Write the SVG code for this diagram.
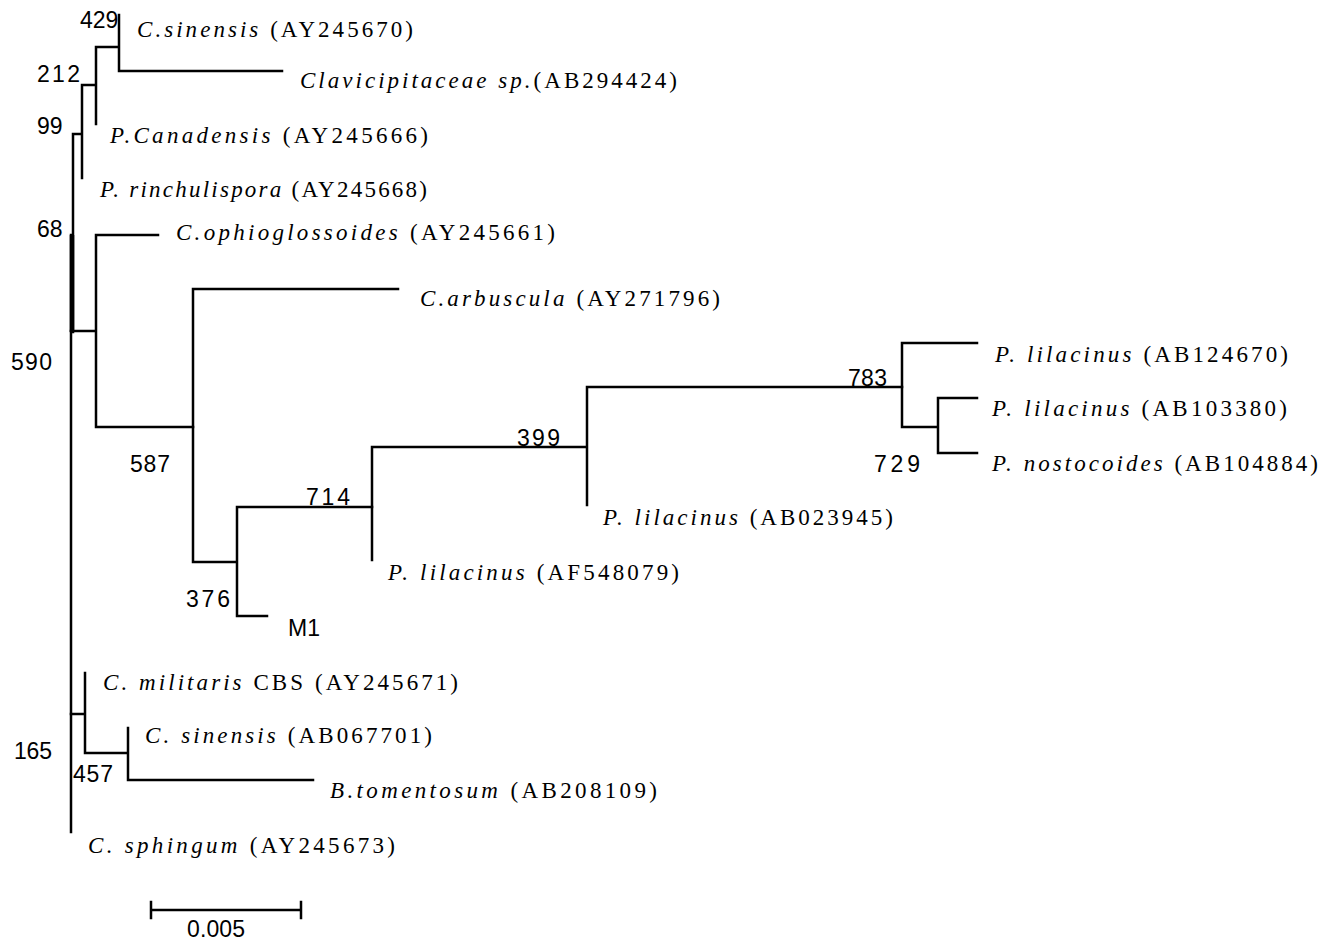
<svg xmlns="http://www.w3.org/2000/svg" width="1327" height="940" viewBox="0 0 1327 940">
<style>
.br{fill:none;stroke:#000;stroke-width:2.5;stroke-linecap:square}
.lab{font-family:"Liberation Serif","Times New Roman",serif;font-size:23px;fill:#000}
.i{font-style:italic}
.num{font-family:"Liberation Sans",Arial,sans-serif;font-size:23px;fill:#000}
</style>
<rect width="1327" height="940" fill="#fff"/>
<g id="connectors">
<path class="br" d="M119,15 V71 M119,71 H282 M96,47 H119 M96,47 V124 M82,85 H96 M82,85 V178 M73,134 H82 M73,134 V332"/>
<path class="br" d="M71,235 V832"/>
<path d="M72,235 V332" stroke="#000" stroke-width="4.5" fill="none"/>
<path class="br" d="M71,331 H96 M96,235 V427 M96,235 H158 M96,427 H193"/>
<path class="br" d="M193,289 V562 M193,289 H398 M193,562 H237 M237,507 V616 M237,616 H267 M237,507 H372"/>
<path class="br" d="M372,447 V560 M372,447 H587 M587,387 V505 M587,387 H902"/>
<path class="br" d="M902,343 V427 M902,343 H977 M902,427 H938 M938,398 V453 M938,398 H977 M938,453 H977"/>
<path class="br" d="M71,714 H85 M85,673 V753 M85,753 H128 M128,728 V780 M128,780 H313"/>
</g>
<g id="scale">
<path class="br" d="M151,910 H301 M151,902 V918 M301,902 V918"/>
<text class="num" x="187" y="937" font-size="20" textLength="58">0.005</text>
</g>
<g id="leaf-csinensis1"><text class="lab" x="137" y="37" textLength="276"><tspan class="i">C.sinensis</tspan> (AY245670)</text></g>
<g id="leaf-clavicipitaceae"><text class="lab" x="300" y="88" textLength="377"><tspan class="i">Clavicipitaceae sp.</tspan>(AB294424)</text></g>
<g id="leaf-pcanadensis"><text class="lab" x="110" y="143" textLength="318"><tspan class="i">P.Canadensis</tspan> (AY245666)</text></g>
<g id="leaf-princhulispora"><text class="lab" x="100" y="197" textLength="327"><tspan class="i">P. rinchulispora</tspan> (AY245668)</text></g>
<g id="leaf-cophioglossoides"><text class="lab" x="176" y="240" textLength="379"><tspan class="i">C.ophioglossoides</tspan> (AY245661)</text></g>
<g id="leaf-carbuscula"><text class="lab" x="420" y="306" textLength="300"><tspan class="i">C.arbuscula</tspan> (AY271796)</text></g>
<g id="leaf-plilacinus1"><text class="lab" x="995" y="362" textLength="293"><tspan class="i">P. lilacinus</tspan> (AB124670)</text></g>
<g id="leaf-plilacinus2"><text class="lab" x="992" y="416" textLength="295"><tspan class="i">P. lilacinus</tspan> (AB103380)</text></g>
<g id="leaf-pnostocoides"><text class="lab" x="992" y="471" textLength="326"><tspan class="i">P. nostocoides</tspan> (AB104884)</text></g>
<g id="leaf-plilacinus3"><text class="lab" x="603" y="525" textLength="290"><tspan class="i">P. lilacinus</tspan> (AB023945)</text></g>
<g id="leaf-plilacinus4"><text class="lab" x="388" y="580" textLength="291"><tspan class="i">P. lilacinus</tspan> (AF548079)</text></g>
<g id="leaf-m1"><text class="num" x="288" y="636">M1</text></g>
<g id="leaf-cmilitaris"><text class="lab" x="103" y="690" textLength="355"><tspan class="i">C. militaris</tspan> CBS (AY245671)</text></g>
<g id="leaf-csinensis2"><text class="lab" x="145" y="743" textLength="287"><tspan class="i">C. sinensis</tspan> (AB067701)</text></g>
<g id="leaf-btomentosum"><text class="lab" x="330" y="798" textLength="327"><tspan class="i">B.tomentosum</tspan> (AB208109)</text></g>
<g id="leaf-csphingum"><text class="lab" x="88" y="853" textLength="307"><tspan class="i">C. sphingum</tspan> (AY245673)</text></g>
<g id="bootstrap">
<text class="num" x="80" y="28" font-size="20">429</text>
<text class="num" x="37" y="82" textLength="43">212</text>
<text class="num" x="37" y="134">99</text>
<text class="num" x="37" y="237">68</text>
<text class="num" x="11" y="370" textLength="41">590</text>
<text class="num" x="130" y="472" textLength="40">587</text>
<text class="num" x="517" y="446" textLength="43">399</text>
<text class="num" x="848" y="386" textLength="39">783</text>
<text class="num" x="874" y="472" textLength="46">729</text>
<text class="num" x="306" y="505" textLength="44">714</text>
<text class="num" x="186" y="607" textLength="44">376</text>
<text class="num" x="14" y="759" textLength="38">165</text>
<text class="num" x="73" y="782" textLength="40">457</text>
</g>
</svg>
